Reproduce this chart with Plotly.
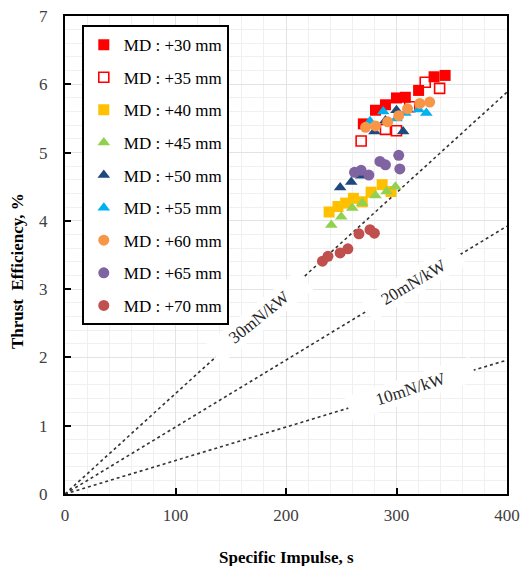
import plotly.graph_objects as go

# ---- data ----
md30_x = [270, 281, 290, 300, 308, 320, 334, 344]
md30_y = [5.42, 5.62, 5.70, 5.80, 5.81, 5.91, 6.11, 6.13]

md35_x = [268, 290, 300, 312, 326, 339]
md35_y = [5.17, 5.34, 5.32, 5.67, 6.03, 5.94]

md40_x = [239, 247, 254, 261, 269, 277, 287, 295]
md40_y = [4.13, 4.21, 4.26, 4.33, 4.28, 4.42, 4.53, 4.43]

md45_x = [241, 250, 260, 269, 281, 291, 299]
md45_y = [3.94, 4.06, 4.19, 4.26, 4.37, 4.43, 4.50]

md50_x = [249, 259, 268, 280, 290, 300, 306]
md50_y = [4.49, 4.57, 4.66, 5.31, 5.47, 5.62, 5.31]

md55_x = [276, 288, 300, 308, 320, 327]
md55_y = [5.46, 5.60, 5.50, 5.58, 5.63, 5.58]

md60_x = [272, 281, 292, 302, 310, 321, 330]
md60_y = [5.37, 5.39, 5.45, 5.54, 5.64, 5.72, 5.74]

md65_x = [262, 268, 275, 285, 290, 302, 303]
md65_y = [4.71, 4.74, 4.67, 4.87, 4.82, 4.96, 4.76]

md70_x = [233, 238, 249, 256, 266, 276, 280]
md70_y = [3.41, 3.48, 3.53, 3.59, 3.81, 3.87, 3.82]

series_names = ["MD : +30 mm", "MD : +35 mm", "MD : +40 mm", "MD : +45 mm", "MD : +50 mm",
                "MD : +55 mm", "MD : +60 mm", "MD : +65 mm", "MD : +70 mm"]

thrust_power_ratios = [30, 20, 10]          # mN/kW guide lines
ratio_labels = ["30mN/kW", "20mN/kW", "10mN/kW"]
isp_line = [0, 400]

x_ticks = [0, 100, 200, 300, 400]
y_ticks = [0, 1, 2, 3, 4, 5, 6, 7]

G0 = 9.80665


def eff_percent(ratio_mn_kw, isp):
    return ratio_mn_kw * 1e-6 * G0 * isp / 2 * 100


SERIF = "Liberation Serif"

fig = go.Figure()

# guide lines
for r in thrust_power_ratios:
    fig.add_trace(go.Scatter(
        x=isp_line, y=[eff_percent(r, v) for v in isp_line], mode="lines",
        line=dict(color="#333333", width=1.6, dash="dot"),
        showlegend=False, hoverinfo="skip"))

styles = [
    dict(symbol="square", color="#ff0000", size=11),
    dict(symbol="square-open", color="#ff0000", size=10, line=dict(width=1.6, color="#ff0000")),
    dict(symbol="square", color="#ffc000", size=11),
    dict(symbol="triangle-up", color="#92d050", size=11),
    dict(symbol="triangle-up", color="#1f497d", size=11),
    dict(symbol="triangle-up", color="#00b0f0", size=11),
    dict(symbol="circle", color="#f79646", size=11),
    dict(symbol="circle", color="#8064a2", size=11),
    dict(symbol="circle", color="#c0504d", size=11),
]
xs = [md30_x, md35_x, md40_x, md45_x, md50_x, md55_x, md60_x, md65_x, md70_x]
ys = [md30_y, md35_y, md40_y, md45_y, md50_y, md55_y, md60_y, md65_y, md70_y]

for i, (name, x, y, st) in enumerate(zip(series_names, xs, ys, styles)):
    fig.add_trace(go.Scatter(x=x, y=y, mode="markers", name=name, marker=st,
                             legendgroup=f"g{i}"))

# guide line labels (white boxes break the dotted lines)
label_isp = [176, 316, 313]
label_angle = [-39, -31, -18]
label_width = [115, 106, 128]
for r, txt, xi, ang, w in zip(thrust_power_ratios, ratio_labels, label_isp, label_angle, label_width):
    fig.add_annotation(x=xi, y=eff_percent(r, xi), text=txt, showarrow=False,
                       textangle=ang, bgcolor="white", width=w, height=22,
                       font=dict(family=SERIF, size=17, color="#262626"))

# axis titles
fig.add_annotation(xref="paper", yref="paper", x=0.5, y=-0.132, text="<b>Specific Impulse, s</b>",
                   showarrow=False, yanchor="middle",
                   font=dict(family=SERIF, size=17, color="black"))
fig.add_annotation(xref="paper", yref="paper", x=-0.109, y=0.466, text="<b>Thrust  Efficiency, %</b>",
                   showarrow=False, textangle=-90, xanchor="center", yanchor="middle",
                   font=dict(family=SERIF, size=17, color="black"))

axis_common = dict(
    showline=True, linecolor="black", linewidth=2, mirror=True,
    ticks="inside", ticklen=6, tickwidth=2, tickcolor="black",
    showgrid=True, gridcolor="#e3e3e3", gridwidth=1,
    zeroline=False, automargin=False, ticklabeloverflow="allow",
    tickfont=dict(family=SERIF, size=17, color="#404040"),
)

fig.update_xaxes(range=[0, 400], tickvals=x_ticks, ticklabelstandoff=5,
                 minor=dict(dtick=20, showgrid=True, gridcolor="#f0f0f0", ticks=""),
                 **axis_common)
fig.update_yaxes(range=[0, 7], tickvals=y_ticks, ticklabelstandoff=12,
                 minor=dict(dtick=0.2, showgrid=True, gridcolor="#f0f0f0", ticks=""),
                 **axis_common)

fig.update_layout(
    width=520, height=566,
    margin=dict(l=65, r=13, t=16, b=72, autoexpand=False),
    paper_bgcolor="white", plot_bgcolor="white",
    showlegend=True,
    legend=dict(x=0.038, y=0.981, xanchor="left", yanchor="top",
                bgcolor="white", bordercolor="black", borderwidth=2,
                font=dict(family=SERIF, size=17, color="black"),
                tracegroupgap=7.5, itemwidth=30),
)

# remove the default page margin so the figure fills the window exactly
fig.write_html("out.html",
               config={"displayModeBar": False},
               post_script="document.body.style.margin='0';document.body.style.overflow='hidden';")
